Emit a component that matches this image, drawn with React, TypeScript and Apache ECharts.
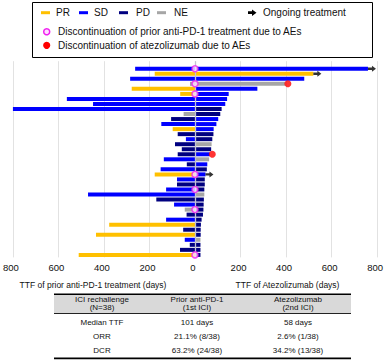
import React, { useEffect, useRef } from 'react';
import * as echarts from 'echarts';

// ---------- data ----------
const patients = [
  'P1', 'P2', 'P3', 'P4', 'P5', 'P6', 'P7', 'P8', 'P9', 'P10',
  'P11', 'P12', 'P13', 'P14', 'P15', 'P16', 'P17', 'P18', 'P19', 'P20',
  'P21', 'P22', 'P23', 'P24', 'P25', 'P26', 'P27', 'P28', 'P29', 'P30',
  'P31', 'P32', 'P33', 'P34', 'P35', 'P36', 'P37', 'P38',
];

// TTF of prior anti-PD-1 treatment (days)
const priorDays = [
  263, 177, 285, 22, 278, 65, 563, 448, 813, 50,
  105, 148, 98, 76, 40, 88, 58, 76, 137, 36,
  151, 177, 79, 79, 127, 470, 170, 92, 45, 37,
  127, 377, 52, 435, 45, 23, 66, 511,
];
const priorResp = [
  'SD', 'PR', 'SD', 'NE', 'PR', 'PR', 'SD', 'SD', 'SD', 'NE',
  'PD', 'SD', 'PR', 'PD', 'SD', 'PD', 'PD', 'PD', 'SD', 'PD',
  'SD', 'PR', 'SD', 'PD', 'SD', 'SD', 'PD', 'SD', 'NE', 'PD',
  'SD', 'PR', 'PD', 'PR', 'SD', 'PD', 'PD', 'PR',
];

// TTF of atezolizumab (days)
const atezoDays = [
  760, 520, 480, 397, 274, 148, 141, 133, 117, 111,
  102, 94, 82, 81, 76, 73, 71, 65, 62, 54,
  52, 46, 43, 43, 41, 41, 39, 38, 37, 35,
  29, 26, 25, 25, 24, 24, 24, 24,
];
const atezoResp = [
  'SD', 'PR', 'SD', 'NE', 'SD', 'SD', 'SD', 'SD', 'PD', 'PD',
  'SD', 'SD', 'SD', 'PD', 'PD', 'NE', 'PD', 'SD', 'NE', 'SD',
  'PD', 'SD', 'PD', 'PD', 'PD', 'NE', 'PD', 'PD', 'PD', 'PD',
  'PD', 'PD', 'PD', 'PD', 'NE', 'PD', 'PD', 'PD',
];

// row numbers (1-based)
const priorAERows = [1, 4, 6, 22, 25, 29, 38];
const atezoAERows = [4, 18];
const ongoingRows = [1, 2, 22];

const responseTypes = ['PR', 'SD', 'PD', 'NE'];
const responseColors: Record<string, string> = {
  PR: '#FFC000',
  SD: '#0000FF',
  PD: '#000080',
  NE: '#A6A6A6',
};

const legendMarkers = [
  'Ongoing treatment',
  'Discontinuation of prior anti-PD-1 treatment due to AEs',
  'Discontinuation of atezolizumab due to AEs',
];

const axisNames = ['TTF of prior anti-PD-1 treatment (days)', 'TTF of Atezolizumab (days)'];

const tableHeaders = [
  ['ICI rechallenge', '(N=38)'],
  ['Prior anti-PD-1', '(1st ICI)'],
  ['Atezolizumab', '(2nd ICI)'],
];
const tableRowLabels = ['Median TTF', 'ORR', 'DCR'];
const tablePrior = ['101 days', '21.1% (8/38)', '63.2% (24/38)'];
const tableAtezo = ['58 days', '2.6% (1/38)', '34.2% (13/38)'];

// ---------- chart ----------
const FONT = '"Liberation Sans", Arial, Helvetica, sans-serif';
const ARROW = 'path://M0,3 L5,3 L5,0 L10,5 L5,10 L5,7 L0,7 Z';

function txt(text: string, x: number, y: number, size: number, align = 'left') {
  return {
    type: 'text',
    silent: true,
    style: {
      text,
      x,
      y,
      fill: '#111',
      font: `${size}px ${FONT}`,
      textAlign: align,
      textVerticalAlign: 'middle',
    },
  };
}

function buildGraphic() {
  const g: any[] = [];
  // legend box
  g.push({
    type: 'rect',
    silent: true,
    shape: { x: 32.5, y: 2.5, width: 340, height: 55 },
    style: { fill: 'none', stroke: '#000', lineWidth: 1 },
  });
  const legX = [41, 79, 119, 157];
  const legTextX = [56, 94, 136, 174];
  responseTypes.forEach((r, i) => {
    g.push({
      type: 'rect',
      silent: true,
      shape: { x: legX[i], y: 11.2, width: 9, height: 3 },
      style: { fill: responseColors[r] },
    });
    g.push(txt(r, legTextX[i], 12.7, 10));
  });
  g.push({
    type: 'polygon',
    silent: true,
    shape: {
      points: [
        [248, 11.3], [252, 11.3], [252, 9.5], [256.5, 12.7], [252, 15.9], [252, 14.1], [248, 14.1],
      ],
    },
    style: { fill: '#000' },
  });
  g.push(txt(legendMarkers[0], 263, 12.7, 10));
  g.push({
    type: 'circle',
    silent: true,
    shape: { cx: 46.7, cy: 31.7, r: 3 },
    style: { fill: '#FFE0FF', stroke: '#F020F0', lineWidth: 1.5 },
  });
  g.push(txt(legendMarkers[1], 58, 31.7, 10));
  g.push({
    type: 'circle',
    silent: true,
    shape: { cx: 46.7, cy: 45.3, r: 3.6 },
    style: { fill: '#FF0000' },
  });
  g.push(txt(legendMarkers[2], 58, 45.3, 10));

  // axis names
  g.push(txt(axisNames[0], 93, 285, 8.5, 'center'));
  g.push(txt(axisNames[1], 287.5, 285, 8.5, 'center'));

  // table
  const tx = 54;
  const tw = 297;
  const colX = [102, 197, 298];
  g.push({
    type: 'rect',
    silent: true,
    shape: { x: tx, y: 294, width: tw, height: 19.5 },
    style: { fill: '#D9D9D9' },
  });
  g.push({
    type: 'line',
    silent: true,
    shape: { x1: tx, y1: 294.2, x2: tx + tw, y2: 294.2 },
    style: { stroke: '#000', lineWidth: 1.6 },
  });
  g.push({
    type: 'line',
    silent: true,
    shape: { x1: tx, y1: 313.5, x2: tx + tw, y2: 313.5 },
    style: { stroke: '#222', lineWidth: 1 },
  });
  g.push({
    type: 'line',
    silent: true,
    shape: { x1: tx, y1: 358.4, x2: tx + tw, y2: 358.4 },
    style: { stroke: '#000', lineWidth: 1.6 },
  });
  tableHeaders.forEach((h, i) => {
    g.push(txt(h[0], colX[i], 299.6, 8, 'center'));
    g.push(txt(h[1], colX[i], 307.8, 8, 'center'));
  });
  tableRowLabels.forEach((lab, i) => {
    const y = 322.8 + i * 14;
    g.push(txt(lab, colX[0], y, 8, 'center'));
    g.push(txt(tablePrior[i], colX[1], y, 8, 'center'));
    g.push(txt(tableAtezo[i], colX[2], y, 8, 'center'));
  });
  return g;
}

export default function App() {
  const ref = useRef<HTMLDivElement>(null);

  useEffect(() => {
    if (!ref.current) return;
    const chart = echarts.init(ref.current, undefined, { renderer: 'svg' });

    const cats = ['', ...patients];
    const leftData = [
      null,
      ...priorDays.map((v, i) => ({ value: -v, itemStyle: { color: responseColors[priorResp[i]] } })),
    ];
    const rightData = [
      null,
      ...atezoDays.map((v, i) => ({ value: v, itemStyle: { color: responseColors[atezoResp[i]] } })),
    ];

    chart.setOption({
      animation: false,
      grid: { left: 10, right: 7, top: 61.2, height: 196.2, containLabel: false },
      xAxis: {
        type: 'value',
        min: -800,
        max: 800,
        interval: 200,
        axisLine: { show: false },
        axisTick: { show: false },
        axisLabel: {
          formatter: (v: number) => String(Math.abs(v)),
          fontSize: 9.5,
          fontFamily: FONT,
          color: '#111',
          margin: 5,
          padding: [0, 4, 0, 0],
        },
        splitLine: { show: true, lineStyle: { color: '#E2E2E2', width: 1 } },
      },
      yAxis: {
        type: 'category',
        data: cats,
        inverse: true,
        axisLine: { show: false },
        axisTick: { show: false },
        axisLabel: { show: false },
        splitLine: { show: false },
      },
      series: [
        {
          type: 'bar',
          name: 'Prior anti-PD-1',
          data: leftData,
          barWidth: 4,
          barGap: '-100%',
          z: 2,
        },
        {
          type: 'bar',
          name: 'Atezolizumab',
          data: rightData,
          barWidth: 4,
          barGap: '-100%',
          z: 2,
          markLine: {
            silent: true,
            symbol: 'none',
            label: { show: false },
            lineStyle: { color: '#C2C2D2', width: 1.3, type: 'solid' },
            data: [{ xAxis: 0 }],
            z: 3,
          },
        },
        {
          type: 'scatter',
          name: 'Ongoing',
          data: ongoingRows.map((r) => [atezoDays[r - 1], r]),
          symbol: ARROW,
          symbolSize: [8, 6],
          symbolOffset: [4, 0],
          itemStyle: { color: '#000' },
          z: 4,
        },
        {
          type: 'scatter',
          name: 'Atezo AE',
          data: atezoAERows.map((r) => [atezoDays[r - 1], r]),
          symbol: 'circle',
          symbolSize: 7,
          symbolOffset: [2.5, 0],
          itemStyle: { color: '#FF0000' },
          z: 5,
        },
        {
          type: 'scatter',
          name: 'Prior AE',
          data: priorAERows.map((r) => [0, r]),
          symbol: 'circle',
          symbolSize: 6,
          itemStyle: { color: '#FFE0FF', borderColor: '#F020F0', borderWidth: 1.5 },
          z: 6,
        },
      ],
      graphic: buildGraphic(),
    });

    return () => chart.dispose();
  }, []);

  return (
    <div
      ref={ref}
      style={{ position: 'fixed', left: 0, top: 0, width: 386, height: 360, background: '#fff' }}
    />
  );
}
